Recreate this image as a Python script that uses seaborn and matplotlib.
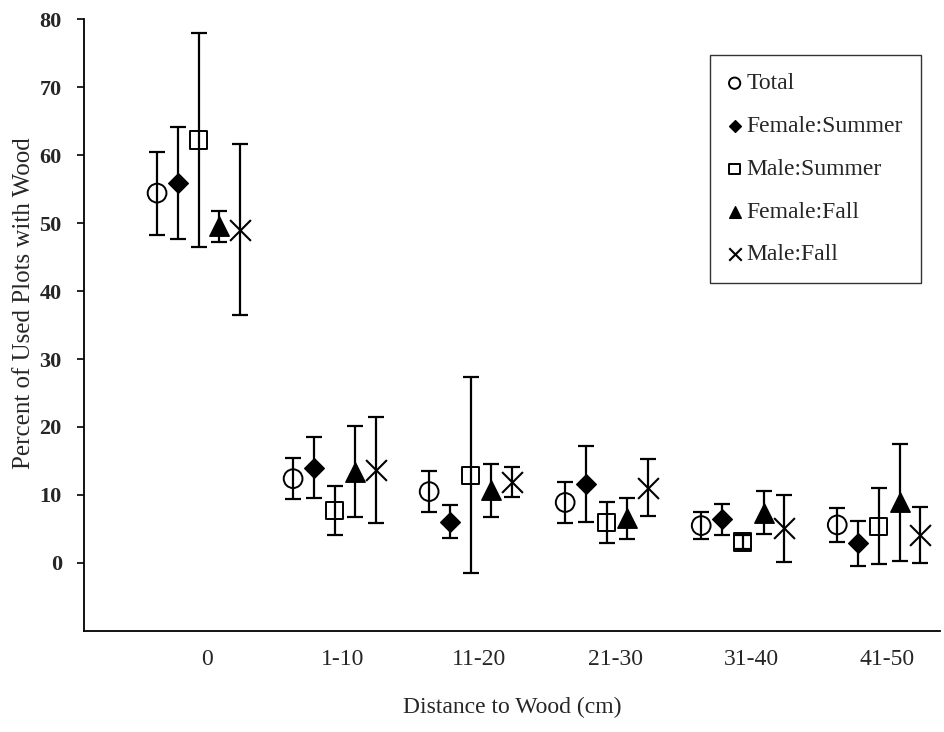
import numpy as np
import pandas as pd
import matplotlib
matplotlib.use("Agg")
import matplotlib.pyplot as plt
import seaborn as sns

categories = ["0", "1-10", "11-20", "21-30", "31-40", "41-50"]
series = ["Total", "Female:Summer", "Male:Summer", "Female:Fall", "Male:Fall"]

total_mean = [54.4, 12.4, 10.5, 8.9, 5.5, 5.6]
total_err = [6.1, 3.0, 3.0, 3.0, 2.0, 2.5]
fsum_mean = [55.9, 14.0, 6.1, 11.6, 6.4, 2.9]
fsum_err = [8.2, 4.5, 2.4, 5.6, 2.3, 3.3]
msum_mean = [62.2, 7.7, 12.9, 6.0, 3.1, 5.4]
msum_err = [15.7, 3.6, 14.4, 3.0, 1.0, 5.6]
ffall_mean = [49.5, 13.4, 10.7, 6.6, 7.4, 8.9]
ffall_err = [2.3, 6.7, 3.9, 3.0, 3.2, 8.6]
mfall_mean = [49.0, 13.7, 11.9, 11.1, 5.1, 4.1]
mfall_err = [12.6, 7.8, 2.2, 4.2, 4.9, 4.1]

means = [total_mean, fsum_mean, msum_mean, ffall_mean, mfall_mean]
errs = [total_err, fsum_err, msum_err, ffall_err, mfall_err]

rows = []
for s, m, e in zip(series, means, errs):
    for c, mv, ev in zip(categories, m, e):
        rows.append({"series": s, "category": c, "mean": mv, "err": ev})
df = pd.DataFrame(rows)

sns.set_theme(style="ticks")
plt.rcParams["font.family"] = ["Liberation Serif", "DejaVu Serif"]

fig = plt.figure(figsize=(9.44, 7.32), dpi=100)
ax = fig.add_axes([0.089, 0.138, 0.907, 0.836])

offsets = [-0.367, -0.214, -0.062, 0.091, 0.243]
styles = {
    "Total": dict(marker="o", s=13.5 ** 2, facecolor="none", edgecolor="black", linewidth=1.4),
    "Female:Summer": dict(marker="D", s=10 ** 2, facecolor="black", edgecolor="black", linewidth=1.0),
    "Male:Summer": dict(marker="s", s=12.5 ** 2, facecolor="none", edgecolor="black", linewidth=1.4),
    "Female:Fall": dict(marker="^", s=14 ** 2, facecolor="black", edgecolor="black", linewidth=1.0),
    "Male:Fall": dict(marker="x", s=15 ** 2, color="black", linewidth=1.5),
}

cat_index = {c: i for i, c in enumerate(categories)}
for k, s in enumerate(series):
    sub = df[df["series"] == s].copy()
    sub["x"] = sub["category"].map(cat_index) + offsets[k]
    ax.errorbar(sub["x"], sub["mean"], yerr=sub["err"], fmt="none",
                ecolor="black", elinewidth=1.6, capsize=6, capthick=1.6, zorder=2)
    sns.scatterplot(data=sub, x="x", y="mean", ax=ax, label=s, zorder=3,
                    legend=False, **styles[s])

ax.set_xlim(-0.904, 5.39)
ax.set_ylim(-10, 80)
ax.set_yticks(np.arange(0, 81, 10))
ax.set_xticks(range(len(categories)))
ax.set_xticklabels(categories)
for lab in ax.get_yticklabels():
    lab.set_fontweight("bold")
ax.tick_params(axis="y", direction="out", length=5, width=1.2, pad=11, labelsize=16, color="black")
ax.tick_params(axis="x", length=0, pad=13, labelsize=17)

ax.set_xlabel("Distance to Wood (cm)", fontsize=17, labelpad=19)
ax.set_ylabel("Percent of Used Plots with Wood", fontsize=18)
ax.yaxis.set_label_coords(-0.057, 0.535)

sns.despine(ax=ax)
for sp in ["left", "bottom"]:
    ax.spines[sp].set_color("black")
    ax.spines[sp].set_linewidth(1.3)

leg = ax.legend(loc="upper right", bbox_to_anchor=(0.977, 0.941), frameon=True,
                fancybox=False, edgecolor="black", fontsize=17, markerscale=0.6,
                handlelength=0.6, handletextpad=0.2, labelspacing=0.9,
                borderpad=0.75, borderaxespad=0.0)
leg.get_frame().set_linewidth(1.0)

fig.savefig("out.png", dpi=100)
